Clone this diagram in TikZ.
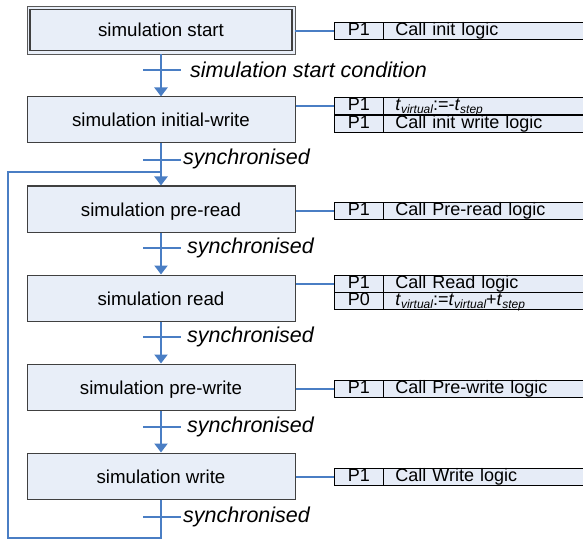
\documentclass[tikz,border=0pt]{standalone}
\usepackage{fontspec}
\setmainfont{Liberation Sans}
\usetikzlibrary{arrows.meta,calc}
\definecolor{boxfill}{HTML}{E8EEF8}
\definecolor{cellfill}{HTML}{E6ECF7}
\definecolor{flowblue}{HTML}{4A7EC4}
\definecolor{edgegray}{HTML}{404040}
\newcommand\tsub[1]{\raisebox{-2.5pt}{\fontsize{12}{12}\selectfont\itshape #1}}
\begin{document}
\begin{tikzpicture}[x=1pt,y=-1pt,
  stagebox/.style={draw=edgegray, line width=1pt, fill=boxfill, minimum width=268pt,
    minimum height=46pt, inner sep=0pt, text height=14pt, text depth=0pt,
    font=\fontsize{18.7}{22}\selectfont},
  pcell/.style={draw=black, line width=0.8pt, fill=cellfill, minimum width=49pt,
    minimum height=17pt, text height=13.5pt, text depth=3.5pt, inner ysep=0pt, inner xsep=0pt,
    anchor=north west, font=\fontsize{18}{18}\selectfont},
  tcell/.style={pcell, text width=183pt, inner xsep=12pt, align=left},
  flow/.style={draw=flowblue, line width=2pt, -{Triangle[width=13pt,length=9pt]}},
  tickline/.style={draw=flowblue, line width=2pt},
  link/.style={draw=flowblue, line width=1.5pt},
  lbl/.style={font=\fontsize{21.5}{24}\selectfont\itshape, anchor=west, inner sep=0pt}
]
\useasboundingbox (0,0) rectangle (583,540);

% stage boxes
\node[stagebox, draw=gray!70!black, line width=0.8pt, minimum height=48pt] (b0) at (161,30) {simulation start};
\draw[edgegray, line width=1.6pt] ($(b0.north west)+(3.5,4)$) rectangle ($(b0.south east)+(-3.5,-4)$);
\node[stagebox] (b1) at (161,120) {simulation initial-write};
\node[stagebox] (b2) at (161,209) {simulation pre-read};
\node[stagebox] (b3) at (161,298) {simulation read};
\node[stagebox] (b4) at (161,387) {simulation pre-write};
\node[stagebox] (b5) at (161,476) {simulation write};

% flow arrows
\draw[flow] (b0.south) -- (b1.north);
\draw[flow] (b1.south) -- (b2.north);
\draw[flow] (b2.south) -- (b3.north);
\draw[flow] (b3.south) -- (b4.north);
\draw[flow] (b4.south) -- (b5.north);

% loop back
\coordinate (lb) at (8,538);
\coordinate (lt) at (8,172);
\draw[tickline, line join=miter] (b5.south) |- (lb) -- (lt) -- (lt -| b1.south);

% ticks and labels
\foreach \y in {70,160,248,337,427,517} {
  \draw[tickline] (143,\y) -- (181,\y);
}
\node[lbl] (l1) at (190,70) {simulation start condition};
\node[lbl] (l2) at (183,159) {synchronised};
\node[lbl] (l3) at (187,248) {synchronised};
\node[lbl] (l4) at (187,337) {synchronised};
\node[lbl] (l5) at (187,427) {synchronised};
\node[lbl] (l6) at (183,517) {synchronised};

% tables
\node[pcell] (p0) at (334,22) {P1};
\node[tcell] (t0) at (383,22) {Call init logic};

\node[pcell] (p1a) at (334,97) {P1};
\node[tcell] (t1a) at (383,97) {\textit{t}\tsub{virtual}:=-\textit{t}\tsub{step}};
\node[pcell] (p1b) at (334,115) {P1};
\node[tcell] (t1b) at (383,115) {Call init write logic};

\node[pcell] (p2) at (334,202) {P1};
\node[tcell] (t2) at (383,202) {Call Pre-read logic};

\node[pcell] (p3a) at (334,275) {P1};
\node[tcell] (t3a) at (383,275) {Call Read logic};
\node[pcell] (p3b) at (334,292) {P0};
\node[tcell] (t3b) at (383,292) {\textit{t}\tsub{virtual}:=\textit{t}\tsub{virtual}+\textit{t}\tsub{step}};

\node[pcell] (p4) at (334,380) {P1};
\node[tcell] (t4) at (383,380) {Call Pre-write logic};

\node[pcell] (p5) at (334,468) {P1};
\node[tcell] (t5) at (383,468) {Call Write logic};

% links
\draw[link] (p0.west -| b0.east) -- (p0.west);
\draw[link] (p1a.west -| b1.east) -- (p1a.west);
\draw[link] (p2.west -| b2.east) -- (p2.west);
\draw[link] (p3a.west -| b3.east) -- (p3a.west);
\draw[link] (p4.west -| b4.east) -- (p4.west);
\draw[link] (p5.west -| b5.east) -- (p5.west);
\end{tikzpicture}
\end{document}
